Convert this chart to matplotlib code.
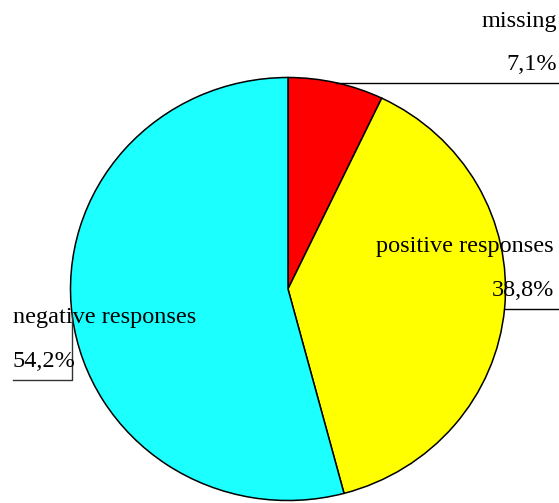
import matplotlib.pyplot as plt
import numpy as np

labels = ['missing', 'positive responses', 'negative responses']
pct_labels = ['7,1%', '38,8%', '54,2%']
values = [7.1, 38.8, 54.2]
colors = ['#FF0000', '#FFFF00', '#1CFFFF']

W, H = 559, 503
cx, cy = 288, 289      # pie centre in pixels
rx, ry = 217.5, 211.5  # the pie is a little wider than tall


def px(x):
    return (x - cx) / rx


def py(y):
    return (cy - y) / ry


fig = plt.figure(figsize=(W / 100, H / 100), dpi=100)
ax = fig.add_axes([0, 0, 1, 1])
plt.rcParams['font.family'] = ['Liberation Serif', 'DejaVu Serif']

wedges, _ = ax.pie(values, colors=colors, startangle=90, counterclock=False,
                   radius=1, center=(0, 0), frame=True,
                   wedgeprops=dict(edgecolor='black', linewidth=1.1))
ax.set_aspect('auto')
ax.set_xlim(px(0), px(W))
ax.set_ylim(py(H), py(0))
ax.axis('off')

# mid angle of each slice, to start the leader lines at the rim
mids = []
start = 90.0
for v in values:
    sweep = v / sum(values) * 360
    mids.append(np.deg2rad(start - sweep / 2))
    start -= sweep

fs = 17.5
lw = 1.0

# missing: leader to the right edge
x0, y0 = np.cos(mids[0]), np.sin(mids[0])
ax.plot([x0, px(W)], [y0, y0], color='black', lw=lw)
ax.text(px(557), py(27), labels[0], ha='right', va='baseline', fontsize=fs)
ax.text(px(557), py(70), pct_labels[0], ha='right', va='baseline', fontsize=fs)

# positive responses
x1, y1 = np.cos(mids[1]), np.sin(mids[1])
ax.plot([x1, px(W)], [y1, y1], color='black', lw=lw)
ax.text(px(554), py(252), labels[1], ha='right', va='baseline', fontsize=fs, zorder=5)
ax.text(px(554), py(296), pct_labels[1], ha='right', va='baseline', fontsize=fs, zorder=5)

# negative responses: down from the rim, then left
x2, y2 = np.cos(mids[2]), np.sin(mids[2])
ax.plot([x2, x2, px(13)], [y2, py(380), py(380)], color='#333333', lw=lw)
ax.text(px(13), py(323), labels[2], ha='left', va='baseline', fontsize=fs, zorder=5)
ax.text(px(13), py(367), pct_labels[2], ha='left', va='baseline', fontsize=fs, zorder=5)

fig.savefig('out.png', dpi=100)
